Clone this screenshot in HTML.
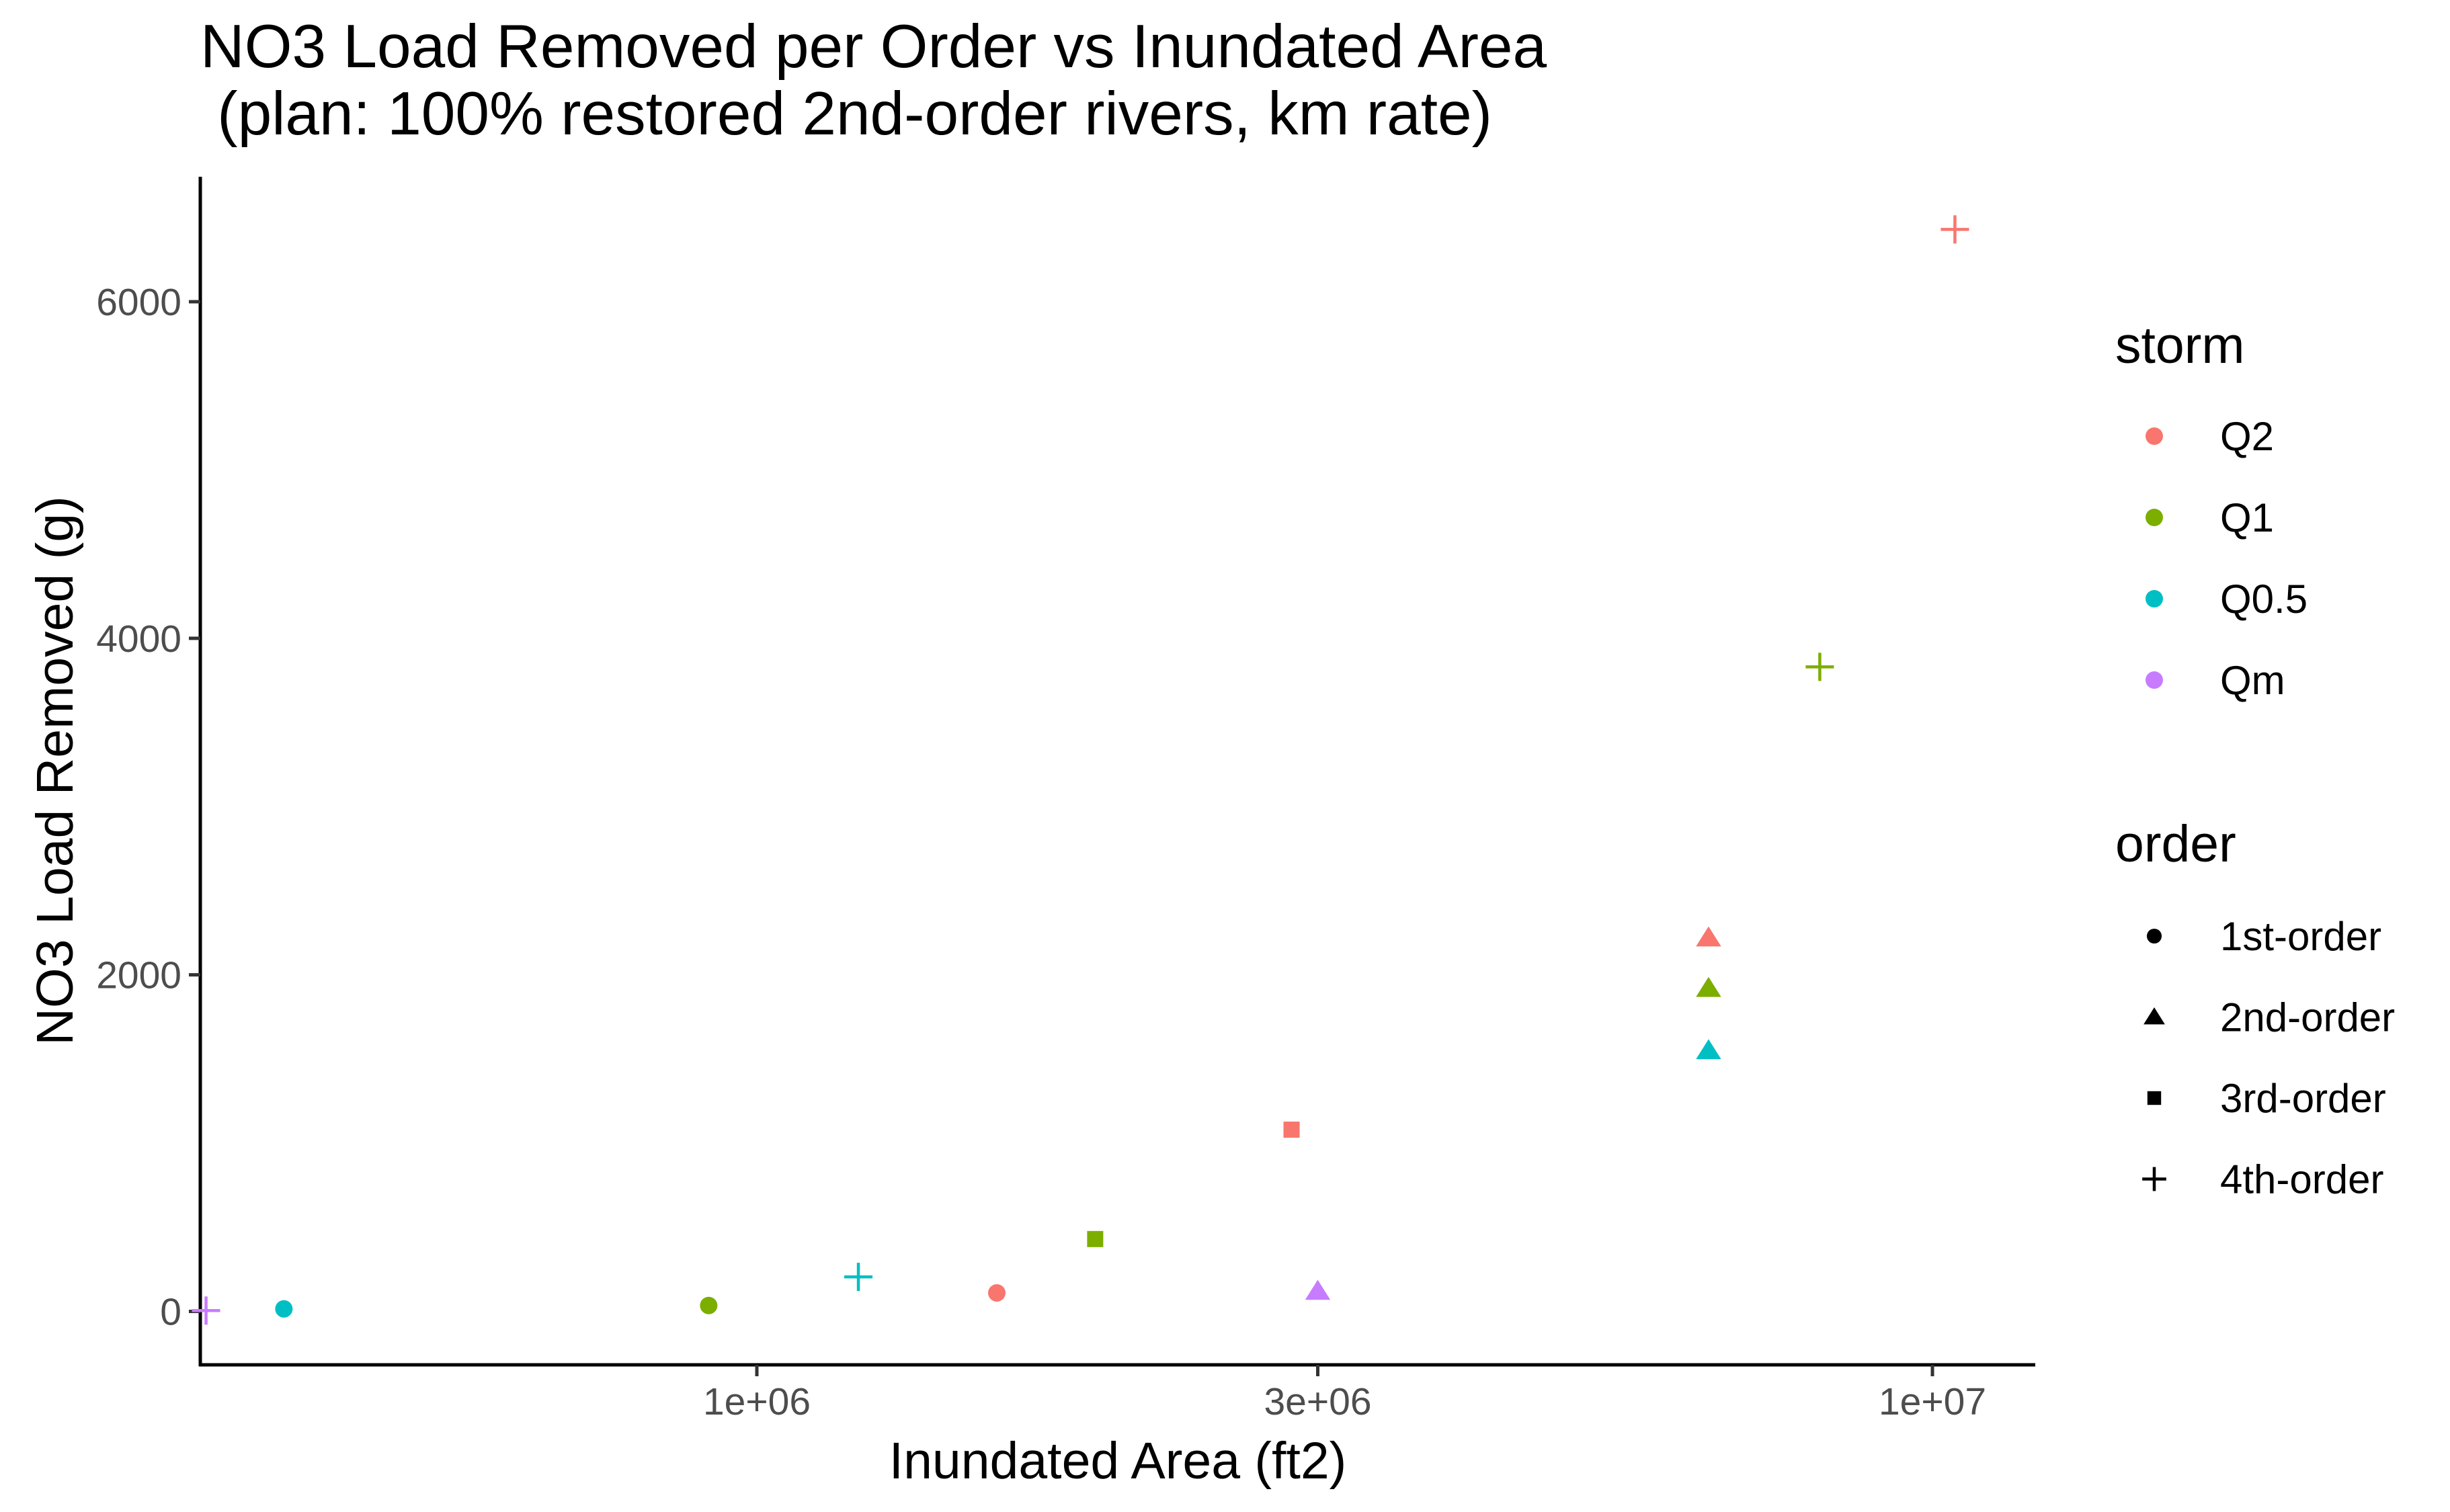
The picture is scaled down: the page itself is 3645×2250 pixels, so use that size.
<!DOCTYPE html>
<html><head><meta charset="utf-8"><style>
html,body{margin:0;padding:0;background:#fff;}
svg{display:block;font-family:"Liberation Sans",Arial,sans-serif;}
</style></head><body>
<svg id="chart" width="3645" height="2250" viewBox="0 0 3645 2250">
<text x="298" y="100" font-size="91" fill="#000">NO3 Load Removed per Order vs Inundated Area</text>
<text x="298" y="200" font-size="91" fill="#000" xml:space="preserve"> (plan: 100% restored 2nd-order rivers, km rate)</text>
<g id="axes"></g>
<g id="points"></g>
<g id="legend"></g>
</svg>
<script>
const storms = ["Q2","Q1","Q0.5","Qm"];
const storm_colors = ["#F8766D","#7CAE00","#00BFC4","#C77CFF"];
const orders = ["1st-order","2nd-order","3rd-order","4th-order"];
const pt_area = [340000, 396000, 910000, 1220000, 1600000, 1940000, 2850000, 3000000, 6450000, 6450000, 6450000, 8020000, 10450000];
const pt_load = [5, 15, 35, 205, 110, 430, 1080, 120, 2220, 1920, 1550, 3830, 6430];
const pt_storm = ["Qm","Q0.5","Q1","Q0.5","Q2","Q1","Q2","Qm","Q2","Q1","Q0.5","Q1","Q2"];
const pt_order = ["4th-order","1st-order","1st-order","4th-order","1st-order","3rd-order","3rd-order","2nd-order","2nd-order","2nd-order","2nd-order","4th-order","4th-order"];
const x_ticks = [1e6, 3e6, 1e7];
const x_tick_labels = ["1e+06","3e+06","1e+07"];
const y_ticks = [0, 2000, 4000, 6000];
const y_tick_labels = ["0","2000","4000","6000"];

const NS="http://www.w3.org/2000/svg";
const L=298,R=3028,T=263,B=2031;
function xs(v){return 1126+(Math.log10(v)-6)*1749;}
function ys(v){return 1951.5-v*(1502.5/6000);}
function mk(tag,attrs,parent){const e=document.createElementNS(NS,tag);for(const k in attrs)e.setAttribute(k,attrs[k]);parent.appendChild(e);return e;}
const axes=document.getElementById('axes');
let a=mk('line',{x1:L,y1:T,x2:L,y2:B+2,stroke:'#000','stroke-width':5},axes);


a=mk('line',{x1:L-2,y1:B,x2:R,y2:B,stroke:'#000','stroke-width':5},axes);


x_ticks.forEach((v,i)=>{
  const t=mk('line',{x1:xs(v),y1:B,x2:xs(v),y2:B+17,stroke:'#333','stroke-width':5},axes);
  
  
  const tx=mk('text',{x:xs(v),y:B+74,'font-size':57,fill:'#4D4D4D','text-anchor':'middle'},axes);
  tx.textContent=x_tick_labels[i];
  
  
});
y_ticks.forEach((v,i)=>{
  const t=mk('line',{x1:L-17,y1:ys(v),x2:L,y2:ys(v),stroke:'#333','stroke-width':5},axes);
  
  
  const tx=mk('text',{x:L-28,y:ys(v)+20,'font-size':57,fill:'#4D4D4D','text-anchor':'end'},axes);
  tx.textContent=y_tick_labels[i];
  
  
});
let xt=mk('text',{x:(L+R)/2,y:2200,'font-size':77,fill:'#000','text-anchor':'middle'},axes);
xt.textContent='Inundated Area (ft2)';


let yt=mk('text',{x:0,y:0,'font-size':77,fill:'#000','text-anchor':'middle',transform:'translate(108,'+((T+B)/2)+') rotate(-90)'},axes);
yt.textContent='NO3 Load Removed (g)';



function shape(order,cx,cy,color,parent,s){
  s=s||1;
  if(order==='1st-order') return mk('circle',{cx:cx,cy:cy,r:13*s,fill:color},parent);
  if(order==='2nd-order'){const h=17*s;return mk('polygon',{points:`${cx},${cy-h} ${cx+h*1.1},${cy+h*0.75} ${cx-h*1.1},${cy+h*0.75}`,fill:color},parent);}
  if(order==='3rd-order') return mk('rect',{x:cx-12*s,y:cy-12*s,width:24*s,height:24*s,fill:color},parent);
  return mk('path',{d:`M${cx-21*s},${cy}H${cx+21*s}M${cx},${cy-21*s}V${cy+21*s}`,stroke:color,'stroke-width':4.5,fill:'none'},parent);
}
const pts=document.getElementById('points');
pt_area.forEach((v,i)=>{
  const col=storm_colors[storms.indexOf(pt_storm[i])];
  const e=shape(pt_order[i],xs(v),ys(pt_load[i]),col,pts);
  
  
});
const lg=document.getElementById('legend');
let lt=mk('text',{x:3147,y:540,'font-size':77,fill:'#000'},lg);
lt.textContent='storm';


storms.forEach((s,i)=>{
  const y=649+i*121;
  const c=mk('circle',{cx:3205,cy:y,r:13,fill:storm_colors[i]},lg);
  
  
  const t=mk('text',{x:3303,y:y+21,'font-size':60,fill:'#000'},lg);
  t.textContent=s;
  
  
});
lt=mk('text',{x:3147,y:1282,'font-size':77,fill:'#000'},lg);
lt.textContent='order';


orders.forEach((o,i)=>{
  const y=1393+i*120.5;
  const k=shape(o,3205,y,'#000',lg,0.85);
  
  
  const t=mk('text',{x:3303,y:y+21,'font-size':60,fill:'#000'},lg);
  t.textContent=o;
  
  
});
</script>
</body></html>
